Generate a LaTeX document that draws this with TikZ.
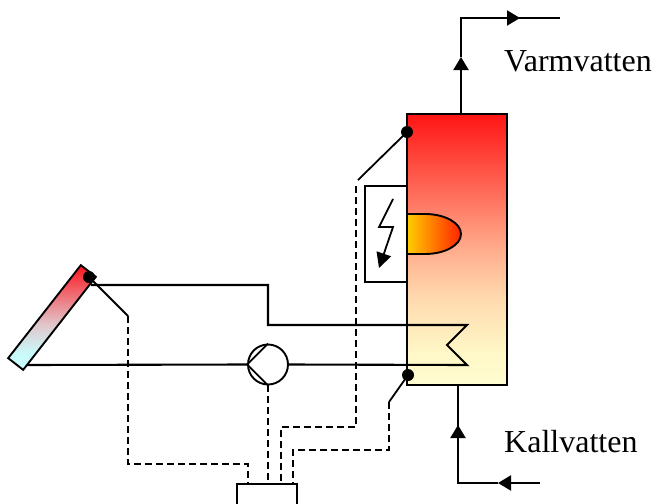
\documentclass[tikz,border=0pt]{standalone}
\usepackage{fontspec}
\setmainfont{Liberation Serif}
\usetikzlibrary{arrows.meta}
\definecolor{heatL}{RGB}{255,205,0}
\definecolor{heatR}{RGB}{255,35,0}
\pgfdeclareverticalshading{tankshade}{100bp}{
  rgb(0bp)=(1,0.99,0.82);
  rgb(25bp)=(1,0.99,0.82);
  rgb(31bp)=(1,0.97,0.78);
  rgb(41bp)=(1,0.855,0.685);
  rgb(50bp)=(1,0.675,0.55);
  rgb(75bp)=(1,0.08,0.08);
  rgb(100bp)=(1,0.08,0.08)}
\pgfdeclareverticalshading{solshade}{100bp}{
  rgb(0bp)=(0.78,1,1);
  rgb(25bp)=(0.78,1,1);
  rgb(33bp)=(0.79,0.98,0.98);
  rgb(47bp)=(0.88,0.77,0.79);
  rgb(75bp)=(1,0.08,0.12);
  rgb(100bp)=(1,0.08,0.12)}
\tikzset{
  pipe/.style={line width=2.1pt, black},
  thin pipe/.style={line width=1.8pt, black},
  ctrl/.style={line width=1.8pt, black, dash pattern=on 7pt off 4pt},
  sensor/.style={line width=1.8pt, black},
  dot/.style={circle, fill=black, inner sep=0pt, minimum size=12pt},
  flow/.style={pipe, -{Triangle[length=13pt,width=15pt]}},
  box/.style={draw=black, line width=1.9pt, inner sep=0pt, fill=white},
  label/.style={anchor=base west, inner sep=0pt, font=\fontsize{32}{32}\selectfont}
}
\begin{document}
\begin{tikzpicture}[x=1pt,y=-1pt]
\useasboundingbox (0,0) rectangle (655,503);
% tank
\node[box, minimum width=100pt, minimum height=271pt, shading=tankshade] (tank) at (457,249.5) {};
% heater
\node[box, minimum width=42pt, minimum height=96pt] (elbox) at (386,234) {};
\path[draw=black, line width=1.9pt, left color=heatL, right color=heatR]
  (407,214) -- (425,214) .. controls (445,214) and (461,223) .. (461,234)
  .. controls (461,245) and (445,254) .. (425,254) -- (407,254) -- cycle;
\coordinate (b0) at (393,199);
\coordinate (b1) at (379,227);
\coordinate (b2) at (393,227);
\coordinate (b3) at (379,268);
\draw[thin pipe, -{Triangle[length=15pt,width=15pt]}] (b0) -- (b1) -- (b2) -- (b3);
% collector
\node[draw=black, line width=1.9pt, inner sep=0pt, rotate=-38, minimum width=19pt, minimum height=118pt,
      shading=solshade] (sol) at (52,317.5) {};
\node[dot] (solS) at (89,277) {};
% pump
\node[draw=black, line width=1.9pt, circle, inner sep=0pt, minimum size=40pt, fill=white] (pump) at (268,364.5) {};
\draw[thin pipe] (pump.north) -- (pump.west) -- (pump.south);
% coil
\coordinate (c0) at (91,285);
\coordinate (c1) at (268,285);
\coordinate (c2) at (268,325);
\coordinate (c3) at (467,325);
\coordinate (c4) at (447,345);
\coordinate (c5) at (467,365);
\coordinate (c6) at (27,365);
\draw[pipe, line join=miter] (c0) -- (c1) -- (c2) -- (c3) -- (c4) -- (c5) -- (pump.east);
\draw[pipe] (c6) -- (pump.west);
% hot water
\coordinate (h0) at (461,114);
\coordinate (h1) at (461,57);
\coordinate (h2) at (461,18);
\coordinate (h3) at (520,18);
\coordinate (h4) at (560,18);
\draw[flow] (h0) -- (h1);
\draw[pipe] (h1) -- (h2) -- (h4);
\draw[flow] (h2) -- (h3);
% cold water
\coordinate (k0) at (540,483);
\coordinate (k1) at (498,483);
\coordinate (k2) at (458,483);
\coordinate (k3) at (458,425);
\coordinate (k4) at (458,385);
\draw[flow] (k0) -- (k1);
\draw[pipe] (k1) -- (k2) -- (k3);
\draw[flow] (k2) -- (k3);
\draw[pipe] (k3) -- (k4);
% controller
\node[box, minimum width=60pt, minimum height=40pt] (ctl) at (267,504) {};
% sensors
\node[dot] (topS) at (407,132) {};
\node[dot] (botS) at (408,375) {};
\coordinate (t1) at (358,180);
\coordinate (t2) at (356,186);
\coordinate (t3) at (356,427);
\coordinate (t4) at (281,427);
\coordinate (t5) at (281,484);
\coordinate (u1) at (389,402);
\coordinate (u2) at (389,450);
\coordinate (u3) at (293,450);
\coordinate (u4) at (293,484);
\coordinate (s1) at (128,316);
\coordinate (s2) at (128,464);
\coordinate (s3) at (248,464);
\coordinate (s4) at (248,484);
\draw[sensor] (topS.center) -- (t1);
\draw[sensor] (botS.center) -- (u1);
\draw[sensor] (solS.center) -- (s1);
\draw[ctrl] (t2) -- (t3) -- (t4) -- (t5);
\draw[ctrl] (u1) -- (u2) -- (u3) -- (u4);
\draw[ctrl] (s1) -- (s2) -- (s3) -- (s4);
\draw[ctrl] (pump.south) -- (pump.south |- ctl.north);
% labels
\node[label] (varm) at (504,71) {Varmvatten};
\node[label] (kall) at (504,452) {Kallvatten};
\end{tikzpicture}
\end{document}
